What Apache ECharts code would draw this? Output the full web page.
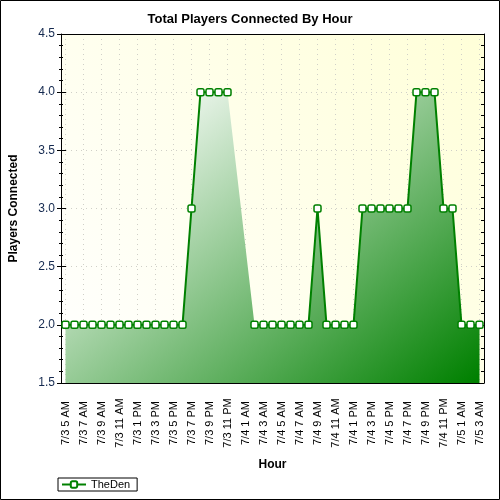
<!DOCTYPE html>
<html>
<head lang="en">
	<meta charset="UTF-8">
	<title>Total Players Connected By Hour</title>
	<script type="text/javascript" src="https://cdn.jsdelivr.net/npm/echarts@6.0.0/dist/echarts.min.js"></script>
	<style>
		html, body { margin: 0; padding: 0; background: #fff; }
		#chart { width: 500px; height: 500px; }
	</style>
</head>
<body>
<div id="chart"></div>
</body>
<script>
// hours on the x axis, one per category
var hours = [
	'7/3 5 AM', '7/3 6 AM', '7/3 7 AM', '7/3 8 AM', '7/3 9 AM', '7/3 10 AM', '7/3 11 AM',
	'7/3 12 PM', '7/3 1 PM', '7/3 2 PM', '7/3 3 PM', '7/3 4 PM', '7/3 5 PM', '7/3 6 PM',
	'7/3 7 PM', '7/3 8 PM', '7/3 9 PM', '7/3 10 PM', '7/3 11 PM',
	'7/4 12 AM', '7/4 1 AM', '7/4 2 AM', '7/4 3 AM', '7/4 4 AM', '7/4 5 AM', '7/4 6 AM',
	'7/4 7 AM', '7/4 8 AM', '7/4 9 AM', '7/4 10 AM', '7/4 11 AM', '7/4 12 PM', '7/4 1 PM',
	'7/4 2 PM', '7/4 3 PM', '7/4 4 PM', '7/4 5 PM', '7/4 6 PM', '7/4 7 PM', '7/4 8 PM',
	'7/4 9 PM', '7/4 10 PM', '7/4 11 PM',
	'7/5 12 AM', '7/5 1 AM', '7/5 2 AM', '7/5 3 AM'
];
// players connected (null = no sample that hour)
var theDen = [
	2, 2, 2, 2, 2, 2, 2, 2, 2, 2, 2, 2, 2, 2,
	3, 4, 4, 4, 4,
	null, null,
	2, 2, 2, 2, 2, 2, 2,
	3,
	2, 2, 2, 2,
	3, 3, 3, 3, 3, 3,
	4, 4, 4,
	3, 3,
	2, 2, 2
];
var yMin = 1.5;
var yMax = 4.5;
var yStep = 0.5;

var myChart = echarts.init(document.getElementById('chart'));

var labelFont = 'Liberation Sans, Arial, sans-serif';
var axisBlack = { color: '#000', width: 1 };

var option = {
	backgroundColor: '#fff',
	animation: false,
	title: {
		text: 'Total Players Connected By Hour',
		left: 'center',
		top: 8,
		textStyle: { fontFamily: labelFont, fontSize: 13, fontWeight: 'bold', color: '#000' }
	},
	legend: {
		data: ['TheDen'],
		left: 58,
		top: 478,
		orient: 'horizontal',
		borderColor: '#000',
		borderWidth: 1,
		padding: [1, 7, 1, 3],
		itemWidth: 24,
		itemHeight: 8,
		itemGap: 6,
		textStyle: { fontFamily: labelFont, fontSize: 11, color: '#000' }
	},
	graphic: [{
		type: 'rect',
		shape: { x: 0.5, y: 0.5, width: 499, height: 499 },
		style: { fill: null, stroke: '#000', lineWidth: 1 },
		silent: true
	}],
	grid: {
		left: 59,
		right: 16,
		top: 34,
		bottom: 117,
		show: true,
		borderWidth: 0,
		//plot background, white to pale yellow
		backgroundColor: new echarts.graphic.LinearGradient(59, 383, 484, 34, [
			{ offset: 0, color: '#ffffff' },
			{ offset: 1, color: '#ffffd8' }
		], true)
	},
	xAxis: [
		{
			type: 'category',
			data: hours,
			boundaryGap: true,
			name: 'Hour',
			nameLocation: 'middle',
			nameGap: 76,
			nameTextStyle: { fontFamily: labelFont, fontSize: 12, fontWeight: 'bold', color: '#000' },
			axisLine: { onZero: false, lineStyle: axisBlack },
			axisTick: { alignWithLabel: true, interval: 1, length: 5, lineStyle: axisBlack },
			axisLabel: {
				interval: 1,
				rotate: 90,
				align: 'center',
				verticalAlign: 'middle',
				margin: 40,
				fontFamily: labelFont,
				fontSize: 11,
				color: '#000'
			},
			splitLine: {
				show: true,
				alignWithLabel: true,
				interval: 1,
				lineStyle: { color: '#d0d0c8', type: [1, 4] }
			}
		},
		{
			// short ticks every hour under the bottom axis
			type: 'category',
			data: hours,
			position: 'bottom',
			axisLine: { show: false, onZero: false },
			axisTick: { alignWithLabel: true, interval: 0, length: 3, lineStyle: axisBlack },
			axisLabel: { show: false },
			splitLine: { show: false }
		},
		{
			// top frame
			type: 'category',
			data: hours,
			position: 'top',
			axisLine: { onZero: false, lineStyle: axisBlack },
			axisTick: { alignWithLabel: true, interval: 0, inside: true, length: 3, lineStyle: axisBlack },
			axisLabel: { show: false },
			splitLine: { show: false }
		}
	],
	yAxis: [
		{
			type: 'value',
			min: yMin,
			max: yMax,
			interval: yStep,
			position: 'left',
			name: 'Players Connected',
			nameLocation: 'middle',
			nameGap: 41,
			nameTextStyle: { fontFamily: labelFont, fontSize: 12, fontWeight: 'bold', color: '#000' },
			axisLine: { show: true, onZero: false, lineStyle: axisBlack },
			axisTick: { show: true, length: 4, lineStyle: axisBlack },
			minorTick: { show: true, splitNumber: 5, length: 2, lineStyle: axisBlack },
			axisLabel: {
				margin: 6,
				fontFamily: labelFont,
				fontSize: 12,
				color: '#14294f',
				formatter: function (v) { return v.toFixed(1); }
			},
			splitLine: { show: true, lineStyle: { color: '#d0d0c8', type: [1, 4] } }
		},
		{
			// inside half of the left ticks
			type: 'value',
			min: yMin,
			max: yMax,
			interval: yStep,
			position: 'left',
			axisLine: { show: false, onZero: false },
			axisTick: { show: true, inside: true, length: 5, lineStyle: axisBlack },
			minorTick: { show: true, splitNumber: 5, length: 2, lineStyle: axisBlack },
			axisLabel: { show: false },
			splitLine: { show: false }
		},
		{
			// right frame
			type: 'value',
			min: yMin,
			max: yMax,
			interval: yStep,
			position: 'right',
			axisLine: { show: true, onZero: false, lineStyle: axisBlack },
			axisTick: { show: true, inside: true, length: 3, lineStyle: axisBlack },
			minorTick: { show: true, splitNumber: 5, length: 3, lineStyle: axisBlack },
			axisLabel: { show: false },
			splitLine: { show: false }
		}
	],
	series: [
		{
			// filled area, joined across the missing hours
			name: 'area',
			type: 'line',
			data: theDen,
			connectNulls: true,
			showSymbol: false,
			symbol: 'none',
			lineStyle: { width: 0 },
			areaStyle: {
				origin: 'start',
				opacity: 1,
				color: new echarts.graphic.LinearGradient(100, 121, 379, 460, [
					{ offset: 0, color: '#ffffff' },
					{ offset: 1, color: '#008000' }
				], true)
			},
			silent: true,
			z: 2
		},
		{
			name: 'TheDen',
			type: 'line',
			data: theDen,
			connectNulls: false,
			symbol: 'roundRect',
			symbolSize: 7,
			showAllSymbol: true,
			itemStyle: { color: '#ffffff', borderColor: '#008000', borderWidth: 1.5 },
			lineStyle: { color: '#008000', width: 2 },
			z: 3
		}
	]
};
myChart.setOption(option);
</script>
</html>
